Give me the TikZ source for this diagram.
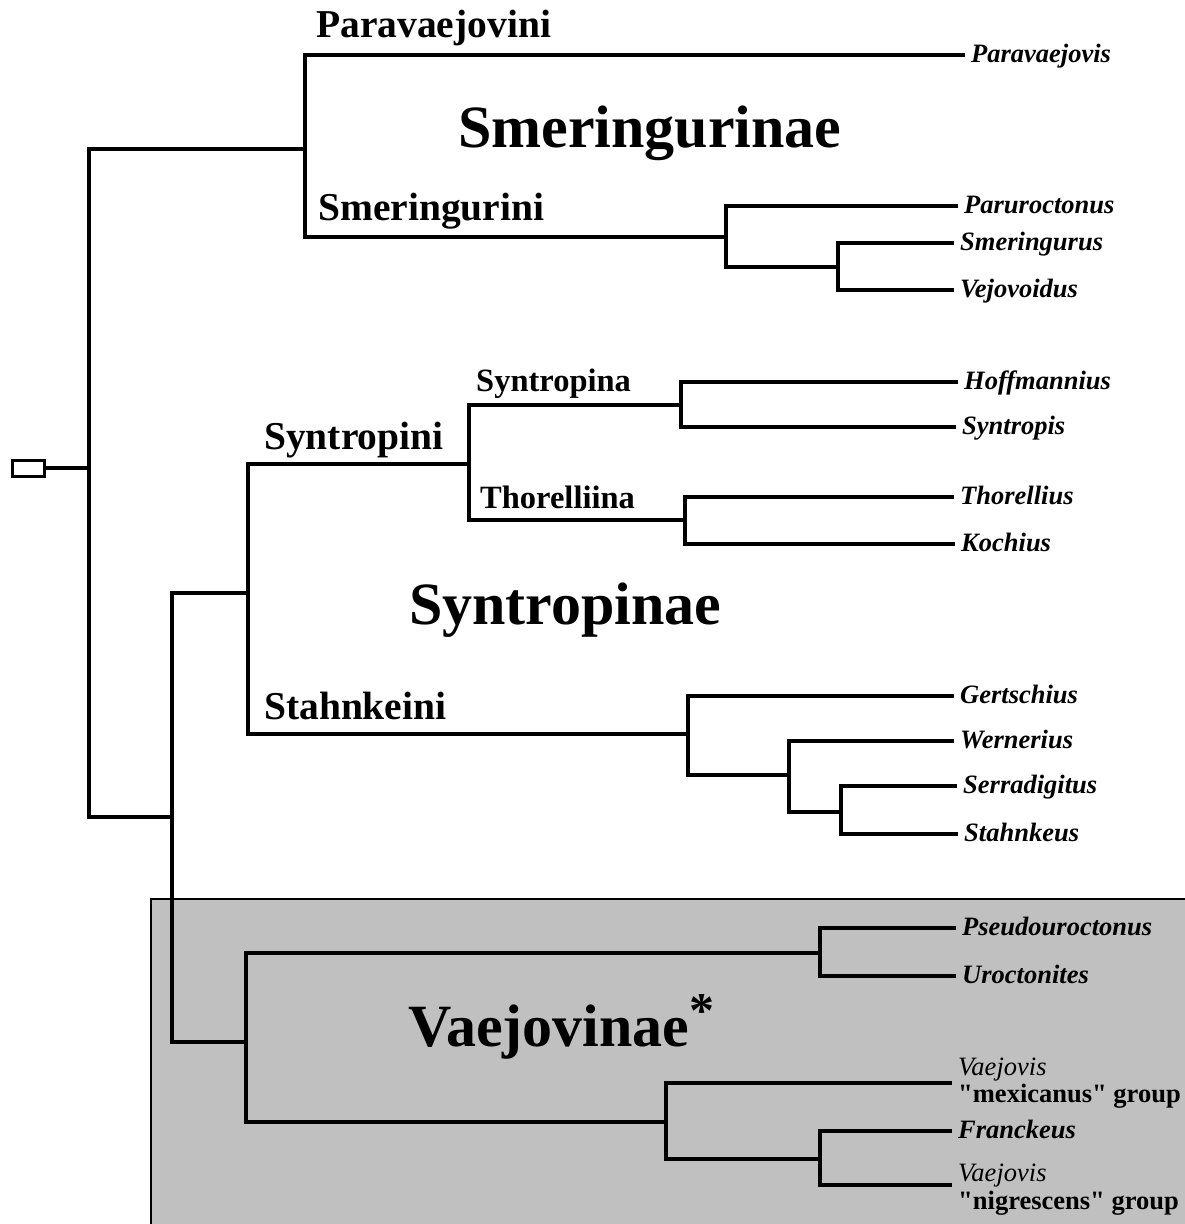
\documentclass[tikz,border=0pt]{standalone}
\usepackage{fontspec}
\setmainfont{Liberation Serif}[Ligatures=TeXOff]
\definecolor{boxgray}{RGB}{192,192,192}
\begin{document}
\begin{tikzpicture}[x=1pt,y=-1pt,
  branch/.style={line width=3.2pt, line cap=rect},
  leaf/.style={anchor=west, inner xsep=8pt, inner ysep=0pt,
    font=\fontsize{26.5}{27.7}\selectfont\bfseries\itshape,
    text height=19.9pt, text depth=4pt},
  leaftwo/.style={anchor=west, inner xsep=8pt, inner ysep=0pt, align=left,
    font=\fontsize{26.5}{27.7}\selectfont\bfseries},
  clade/.style={anchor=base west, inner sep=0pt,
    font=\fontsize{60}{60}\selectfont\bfseries},
  tribe/.style={anchor=base west, inner sep=0pt,
    font=\fontsize{39.5}{40}\selectfont\bfseries},
  subtribe/.style={anchor=base west, inner sep=0pt,
    font=\fontsize{32.5}{33}\selectfont\bfseries},
  rootmark/.style={draw, line width=3pt, minimum width=32pt, minimum height=16pt,
    inner sep=0pt}
]
\useasboundingbox (0,0) rectangle (1184,1224);

% shaded panel behind the Vaejovinae clade
\path[fill=boxgray, draw=black, line width=1.2pt] (151,899) rectangle (1200,1240);

% root
\node[rootmark] (rb) at (28.7,468) {};

% internal branching points
\coordinate (r0) at (89,468);
\coordinate (s0) at (305,149);
\coordinate (s1) at (726,237);
\coordinate (s2) at (838,267);
\coordinate (v0) at (172,817);
\coordinate (t0) at (248,593);
\coordinate (t1) at (469,464);
\coordinate (t2) at (681,405);
\coordinate (t3) at (685,520);
\coordinate (t4) at (688,734);
\coordinate (t5) at (789,775);
\coordinate (t6) at (841,812);
\coordinate (v1) at (246,1042);
\coordinate (v2) at (820,953);
\coordinate (v3) at (666,1122);
\coordinate (v4) at (820,1159);

% terminal taxa
\node[leaf] (pv) at (963,55) {Paravaejovis};
\node[leaf] (pa) at (956,206) {Paruroctonus};
\node[leaf] (sm) at (952,243) {Smeringurus};
\node[leaf] (ve) at (952,290) {Vejovoidus};
\node[leaf] (ho) at (956,382) {Hoffmannius};
\node[leaf] (sy) at (954,427) {Syntropis};
\node[leaf] (th) at (952,497) {Thorellius};
\node[leaf] (ko) at (953,544) {Kochius};
\node[leaf] (ge) at (952,696) {Gertschius};
\node[leaf] (we) at (952,741) {Wernerius};
\node[leaf] (se) at (955,786) {Serradigitus};
\node[leaf] (st) at (956,834) {Stahnkeus};
\node[leaf] (ps) at (954,928) {Pseudouroctonus};
\node[leaf] (ur) at (954,976) {Uroctonites};
\node[leaftwo] (vm) at (950,1083) {{\mdseries\itshape Vaejovis}\\"mexicanus" group};
\node[leaf] (fr) at (950,1131) {Franckeus};
\node[leaftwo] (vn) at (950,1189.5) {{\mdseries\itshape Vaejovis}\\"nigrescens" group};

% branches
\draw[branch] (rb.east) -- (r0);
\draw[branch] (r0) |- (s0);
\draw[branch] (r0) |- (v0);
\draw[branch] (s0) |- (pv.west);
\draw[branch] (s0) |- (s1);
\draw[branch] (s1) |- (pa.west);
\draw[branch] (s1) |- (s2);
\draw[branch] (s2) |- (sm.west);
\draw[branch] (s2) |- (ve.west);
\draw[branch] (v0) |- (t0);
\draw[branch] (v0) |- (v1);
\draw[branch] (t0) |- (t1);
\draw[branch] (t0) |- (t4);
\draw[branch] (t1) |- (t2);
\draw[branch] (t1) |- (t3);
\draw[branch] (t2) |- (ho.west);
\draw[branch] (t2) |- (sy.west);
\draw[branch] (t3) |- (th.west);
\draw[branch] (t3) |- (ko.west);
\draw[branch] (t4) |- (ge.west);
\draw[branch] (t4) |- (t5);
\draw[branch] (t5) |- (we.west);
\draw[branch] (t5) |- (t6);
\draw[branch] (t6) |- (se.west);
\draw[branch] (t6) |- (st.west);
\draw[branch] (v1) |- (v2);
\draw[branch] (v1) |- (v3);
\draw[branch] (v2) |- (ps.west);
\draw[branch] (v2) |- (ur.west);
\draw[branch] (v3) |- (vm.west);
\draw[branch] (v3) |- (v4);
\draw[branch] (v4) |- (fr.west);
\draw[branch] (v4) |- ([yshift=4.5pt]vn.west);

% group names
\node[tribe] (lpv) at (316,37) {Paravaejovini};
\node[tribe] (lsm) at (318,220) {Smeringurini};
\node[clade] (lsmn) at (458,147) {Smeringurinae};
\node[tribe] (lsyi) at (264,449) {Syntropini};
\node[subtribe] (lsya) at (476,391) {Syntropina};
\node[subtribe] (ltha) at (480,508) {Thorelliina};
\node[clade] (lsyn) at (409,624) {Syntropinae};
\node[tribe] (lst) at (264,719) {Stahnkeini};
\node[clade] (lvae) at (408,1046) {Vaejovinae\raisebox{19pt}{\fontsize{50}{50}\selectfont *}};
\end{tikzpicture}
\end{document}
